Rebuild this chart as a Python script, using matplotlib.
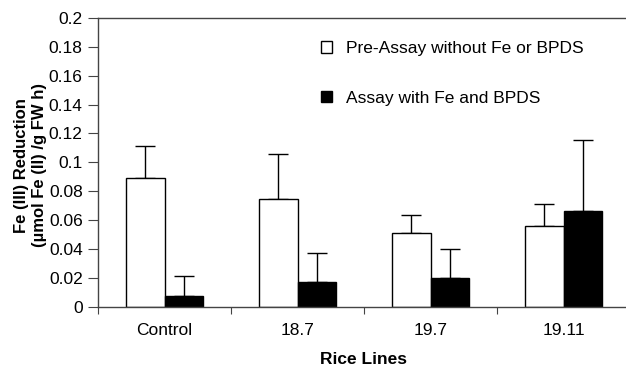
import numpy as np
import matplotlib
matplotlib.use('Agg')
import matplotlib.pyplot as plt

plt.rcParams['font.family'] = ['Liberation Sans', 'DejaVu Sans']

# Data
lines = ['Control', '18.7', '19.7', '19.11']
pre_assay = [0.089, 0.0746, 0.0508, 0.0561]
pre_err = [0.022, 0.0314, 0.0125, 0.015]
assay = [0.0072, 0.0169, 0.0197, 0.0663]
assay_err = [0.0138, 0.0205, 0.0203, 0.0492]
yticks = [0, 0.02, 0.04, 0.06, 0.08, 0.1, 0.12, 0.14, 0.16, 0.18, 0.2]
ytick_labels = ['0', '0.02', '0.04', '0.06', '0.08', '0.1', '0.12', '0.14', '0.16', '0.18', '0.2']

fig = plt.figure(figsize=(6.26, 3.68), dpi=100)
ax = fig.add_axes([98 / 626, 1 - 306.7 / 368, 532 / 626, 288.7 / 368])

x = np.arange(len(lines))
w = 0.29
axcol = '#444444'

ax.bar(x - w / 2, pre_assay, w, color='white', edgecolor='black', linewidth=1,
       label='Pre-Assay without Fe or BPDS', zorder=2)
ax.bar(x + w / 2, assay, w, color='black', edgecolor='black', linewidth=1,
       label='Assay with Fe and BPDS', zorder=2)
ax.errorbar(x - w / 2, pre_assay, yerr=[np.zeros(4), pre_err], fmt='none',
            ecolor='black', elinewidth=1, capsize=7, capthick=1, zorder=1)
ax.errorbar(x + w / 2, assay, yerr=[np.zeros(4), assay_err], fmt='none',
            ecolor='black', elinewidth=1, capsize=7, capthick=1, zorder=1)

ax.set_xlim(-0.5, 3.5)
ax.set_ylim(0, 0.2)
ax.set_yticks(yticks)
ax.set_yticklabels(ytick_labels, fontsize=12.5)
ax.tick_params(axis='y', direction='out', length=7, color=axcol, pad=4)

# ticks between categories, labels at centres
ax.set_xticks(np.arange(-0.5, 3.6, 1))
ax.set_xticklabels([])
ax.tick_params(axis='x', which='major', direction='out', length=5, color=axcol)
ax.set_xticks(x, minor=True)
ax.set_xticklabels(lines, minor=True, fontsize=12.5)
ax.tick_params(axis='x', which='minor', length=0, pad=12)

for s in ['left', 'bottom', 'top']:
    ax.spines[s].set_color(axcol)
    ax.spines[s].set_linewidth(1)
ax.spines['right'].set_visible(False)

ax.set_xlabel('Rice Lines', fontsize=12.5, fontweight='bold', labelpad=10)
ax.set_ylabel('Fe (III) Reduction\n(µmol Fe (II) /g FW h)', fontsize=12,
              fontweight='bold', linespacing=1.3)
ax.yaxis.set_label_coords(-0.095, 0.49)

ax.legend(loc='upper left', bbox_to_anchor=(0.39, 0.975), frameon=False,
          fontsize=12.5, handlelength=0.65, handleheight=0.65, labelspacing=2.0,
          handletextpad=0.8)

fig.savefig('out.png', dpi=100)
